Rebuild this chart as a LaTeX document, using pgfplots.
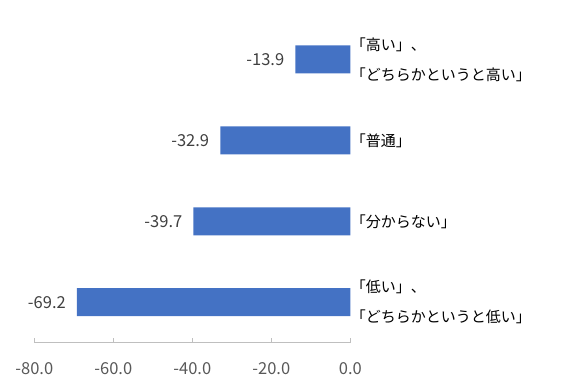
\documentclass[border=0pt]{standalone}
\usepackage{pgfplots}
\pgfplotsset{compat=1.18}
\usepackage{fontspec}
\setmainfont{Noto Sans CJK JP}
\definecolor{barblue}{HTML}{4472C4}
\definecolor{vallab}{HTML}{404040}
\definecolor{ticklab}{HTML}{595959}
\definecolor{axgray}{HTML}{BFBFBF}
\begin{document}
\begin{tikzpicture}
\path[use as bounding box] (0,0) rectangle (564pt,388pt);
\begin{axis}[
  at={(34.3pt,45.3pt)}, anchor=south west,
  scale only axis, width=316pt, height=323.7pt,
  xbar, bar width=28pt, bar shift=0pt,
  xmin=-80, xmax=0, ymin=-0.5, ymax=3.5,
  axis x line*=bottom, axis y line=none,
  axis line style={draw=axgray, line width=0.8pt},
  xtick={-80,-60,-40,-20,0},
  major tick length=4.4pt,
  tick style={draw=axgray, line width=0.8pt},
  ytick=\empty,
  /pgf/number format/assume math mode=true,
  xticklabel style={font=\fontsize{16.5}{19}\selectfont, text=ticklab, yshift=-16pt,
    /pgf/number format/.cd, fixed, fixed zerofill, precision=1},
  nodes near coords,
  nodes near coords style={font=\fontsize{16.5}{19}\selectfont, text=vallab, anchor=east, inner sep=0pt, xshift=-11pt,
    /pgf/number format/.cd, fixed, fixed zerofill, precision=1},
  clip=false,
]
\addplot[fill=barblue, draw=none] coordinates {(-69.2,0) (-39.7,1) (-32.9,2) (-13.9,3)};
\tikzset{catlab/.style={anchor=west, font=\fontsize{15}{18}\selectfont, text=black, xshift=-3pt}}
\node[catlab, yshift=15pt] at (axis cs:0,3) {「高い」、};
\node[catlab, yshift=-15pt] at (axis cs:0,3) {「どちらかというと高い」};
\node[catlab] at (axis cs:0,2) {「普通」};
\node[catlab] at (axis cs:0,1) {「分からない」};
\node[catlab, yshift=15pt] at (axis cs:0,0) {「低い」、};
\node[catlab, yshift=-15pt] at (axis cs:0,0) {「どちらかというと低い」};
\end{axis}
\end{tikzpicture}
\end{document}
